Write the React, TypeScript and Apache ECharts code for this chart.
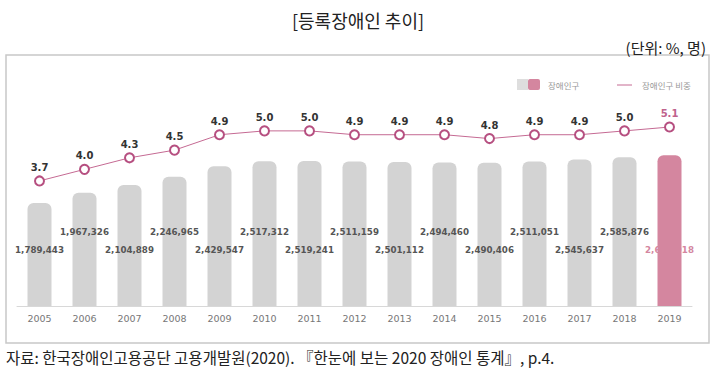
import React, { useEffect, useRef } from "react";
import * as echarts from "echarts";

const years = ["2005", "2006", "2007", "2008", "2009", "2010", "2011", "2012", "2013", "2014", "2015", "2016", "2017", "2018", "2019"];
const population = [1789443, 1967326, 2104889, 2246965, 2429547, 2517312, 2519241, 2511159, 2501112, 2494460, 2490406, 2511051, 2545637, 2585876, 2618918];
const ratio = [3.7, 4.0, 4.3, 4.5, 4.9, 5.0, 5.0, 4.9, 4.9, 4.9, 4.8, 4.9, 4.9, 5.0, 5.1];

const titleText = "[등록장애인 추이]";
const unitText = "(단위: %, 명)";
const sourceText = "자료: 한국장애인고용공단 고용개발원(2020). 『한눈에 보는 2020 장애인 통계』, p.4.";
const legendBar = "장애인구";
const legendLine = "장애인구 비중";

const GRAY = "#d3d3d3";
const PINK = "#d4869f";
const LINE = "#c56a93";
const KR = "'Noto Sans CJK KR', sans-serif";
const NUM = "'DejaVu Sans', sans-serif";

export default function App() {
  const ref = useRef<HTMLDivElement>(null);
  useEffect(() => {
    document.body.style.margin = "0";
    const chart = echarts.init(ref.current!, null, { renderer: "svg" });
    const last = years.length - 1;
    const barData = population.map((v, i) => ({
      value: v,
      itemStyle: { color: i === last ? PINK : GRAY },
      label: {
        offset: [0, i % 2 === 0 ? -47 : -65],
        color: i === last ? PINK : "#555",
      },
    }));
    const lineData = ratio.map((v, i) => ({
      value: v,
      label: { color: i === last ? "#c0628c" : "#333" },
    }));
    chart.setOption({
      animation: false,
      grid: { left: 17, right: 23, top: 77, bottom: 67 },
      xAxis: {
        type: "category",
        data: years,
        axisLine: { lineStyle: { color: "#d8d8d8", width: 1 } },
        axisTick: { show: false },
        axisLabel: { color: "#777", fontSize: 9.5, fontFamily: NUM, margin: 7 },
      },
      yAxis: [
        { type: "value", min: 0, max: 3980000, show: false, splitLine: { show: false } },
        { type: "value", min: 0.45, max: 6.4, show: false, splitLine: { show: false } },
      ],
      series: [
        {
          type: "bar",
          data: barData,
          barWidth: 24,
          itemStyle: { borderRadius: [6, 6, 0, 0] },
          label: {
            show: true,
            position: "insideBottom",
            fontFamily: NUM,
            fontSize: 8.7,
            fontWeight: "bold",
            formatter: (p: any) => Number(p.value).toLocaleString("en-US"),
          },
        },
        {
          type: "line",
          yAxisIndex: 1,
          data: lineData,
          symbol: "circle",
          symbolSize: 9,
          lineStyle: { color: LINE, width: 1 },
          itemStyle: { color: "#fff", borderColor: "#b64f80", borderWidth: 2 },
          label: {
            show: true,
            position: "top",
            distance: 3,
            fontFamily: NUM,
            fontSize: 10,
            fontWeight: "bold",
            formatter: (p: any) => Number(p.value).toFixed(1),
          },
        },
      ],
      graphic: [
        {
          type: "rect",
          shape: { x: 6, y: 55, width: 703, height: 288 },
          style: { fill: "none", stroke: "#c8c8c8", lineWidth: 1.5 },
          silent: true,
        },
        {
          type: "text",
          style: { text: titleText, x: 358, y: 20, align: "center", verticalAlign: "middle", fontSize: 18, fontFamily: KR, fill: "#222" },
        },
        {
          type: "text",
          style: { text: unitText, x: 706, y: 47, align: "right", verticalAlign: "middle", fontSize: 15, fontFamily: KR, fill: "#222" },
        },
        {
          type: "text",
          style: { text: sourceText, x: 6, y: 357, align: "left", verticalAlign: "middle", fontSize: 15.5, fontFamily: KR, fill: "#222" },
        },
        { type: "rect", shape: { x: 517, y: 79, width: 11, height: 11 }, style: { fill: "#dedede" } },
        { type: "rect", shape: { x: 528, y: 79, width: 12, height: 11, r: 2 }, style: { fill: PINK } },
        {
          type: "text",
          style: { text: legendBar, x: 548, y: 85, align: "left", verticalAlign: "middle", fontSize: 8.5, fontFamily: KR, fill: "#999" },
        },
        { type: "line", shape: { x1: 617, y1: 85, x2: 632, y2: 85 }, style: { stroke: LINE, lineWidth: 1 } },
        {
          type: "text",
          style: { text: legendLine, x: 642, y: 85, align: "left", verticalAlign: "middle", fontSize: 8.5, fontFamily: KR, fill: "#999" },
        },
      ],
    });
    return () => chart.dispose();
  }, []);
  return <div ref={ref} style={{ width: 715, height: 373 }} />;
}
